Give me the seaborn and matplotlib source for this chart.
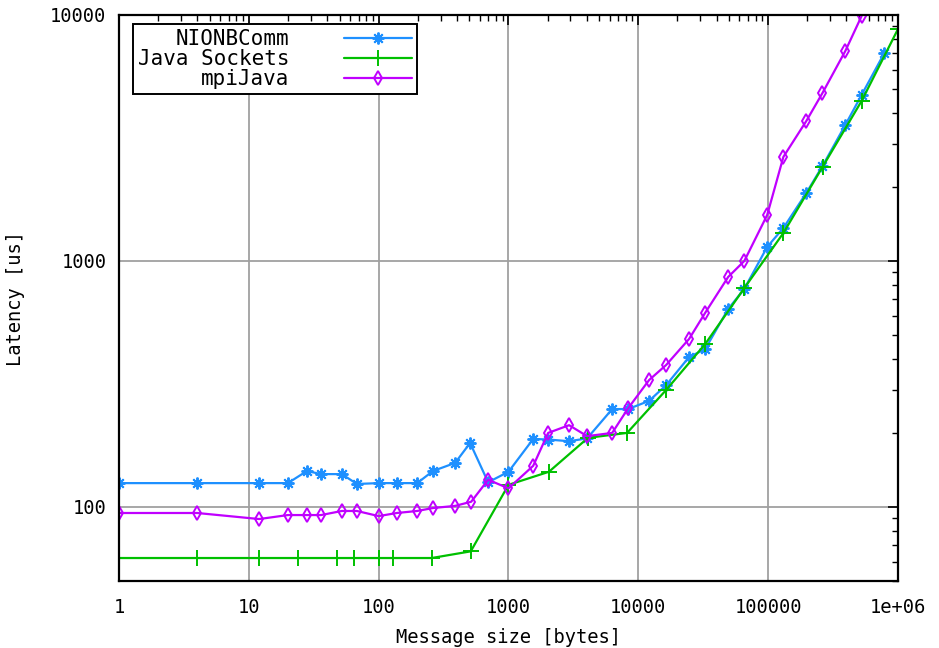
import numpy as np
import pandas as pd
import matplotlib
matplotlib.use("Agg")
import matplotlib.pyplot as plt
import seaborn as sns
from matplotlib.ticker import FixedLocator, FixedFormatter, LogLocator, NullFormatter

# ---- data ----
nio_x = [1, 4, 12, 20, 28, 36, 52, 68, 100, 138, 198, 262, 388, 506, 697, 1000,
         1550, 2020, 2930, 4030, 6290, 8350, 12100, 16400, 24600, 32700, 49200,
         65500, 98300, 131000, 196600, 262100, 393200, 524300, 786400]
nio_y = [125, 125, 125, 125, 140, 136, 136, 124, 125, 125, 125, 140, 151, 182, 126, 139,
         189, 188, 185, 190, 250, 250, 270, 313, 407, 438, 638,
         770, 1141, 1362, 1889, 2432, 3575, 4730, 7015]

sock_x = [1, 4, 12, 24, 48, 64, 100, 128, 256, 512, 1000, 2048, 4096, 8192, 16384,
          32768, 65536, 131072, 262144, 524288, 1000000]
sock_y = [62, 62, 62, 62, 62, 62, 62, 62, 62, 66, 123, 139, 191, 200, 299,
          460, 776, 1300, 2410, 4470, 8770]

mpi_x = [1, 4, 12, 20, 28, 36, 52, 68, 100, 138, 198, 262, 388, 516, 697, 1000,
         1550, 2020, 2930, 4030, 6290, 8350, 12100, 16400, 24600, 32700, 49200,
         65500, 98300, 131000, 196600, 262100, 393200, 524300]
mpi_y = [94.5, 94.5, 89.3, 92.7, 92.7, 92.7, 96.3, 96.3, 91.8, 94.5, 96.3, 99, 101, 105, 129, 119,
         147, 200, 215, 194, 200, 252, 328, 378, 482, 615, 861,
         1000, 1538, 2650, 3705, 4820, 7145, 9900]

series_names = ["NIONBComm", "Java Sockets", "mpiJava"]
colors = ["#1E90FF", "#00C000", "#C000FF"]

x_ticks = [1, 10, 100, 1000, 10000, 100000, 1000000]
x_ticklabels = ["1", "10", "100", "1000", "10000", "100000", "1e+06"]
y_ticks = [100, 1000, 10000]
y_ticklabels = ["100", "1000", "10000"]

sns.set_style("white")
plt.rcParams["font.family"] = ["DejaVu Sans Mono", "DejaVu Sans"]
plt.rcParams["font.size"] = 13.5
for k in ["text.color", "axes.labelcolor", "xtick.color", "ytick.color"]:
    plt.rcParams[k] = "black"

fig = plt.figure(figsize=(9.39, 6.48), dpi=100)
ax = fig.add_axes([119 / 939, 1 - 581 / 648, (898 - 119) / 939, (581 - 15) / 648])

frames = []
for name, xs, ys in [(series_names[0], nio_x, nio_y),
                     (series_names[1], sock_x, sock_y),
                     (series_names[2], mpi_x, mpi_y)]:
    frames.append(pd.DataFrame({"size": xs, "latency": ys, "series": name}))
df = pd.concat(frames, ignore_index=True)

markers = [(8, 2, 0), "+", "d"]
msizes = [8.5, 11, 7]
for name, col, mk, ms in zip(series_names, colors, markers, msizes):
    sub = df[df["series"] == name]
    sns.lineplot(data=sub, x="size", y="latency", ax=ax, color=col, label=name,
                 estimator=None, sort=False, linewidth=1.6,
                 marker=mk, markersize=ms, markeredgecolor=col,
                 markerfacecolor="none", markeredgewidth=1.4, clip_on=True)

ax.set_xscale("log")
ax.set_yscale("log")
ax.set_xlim(1, 1e6)
ax.set_ylim(50, 10000)

ax.xaxis.set_major_locator(FixedLocator(x_ticks))
ax.xaxis.set_major_formatter(FixedFormatter(x_ticklabels))
ax.yaxis.set_major_locator(FixedLocator(y_ticks))
ax.yaxis.set_major_formatter(FixedFormatter(y_ticklabels))
ax.xaxis.set_minor_locator(LogLocator(base=10, subs=np.arange(2, 10), numticks=20))
ax.yaxis.set_minor_locator(LogLocator(base=10, subs=np.arange(2, 10), numticks=20))
ax.xaxis.set_minor_formatter(NullFormatter())
ax.yaxis.set_minor_formatter(NullFormatter())

ax.tick_params(which="both", direction="in", top=True, right=True, colors="black")
ax.tick_params(which="major", length=7, width=1.2)
ax.tick_params(which="minor", length=4, width=1.0)
ax.tick_params(axis="x", which="major", pad=12)
ax.tick_params(axis="y", which="major", pad=9)

ax.grid(True, which="major", color="#a0a0a0", linewidth=1.3)
ax.set_axisbelow(True)
for sp in ax.spines.values():
    sp.set_visible(True)
    sp.set_color("black")
    sp.set_linewidth(1.6)

ax.set_xlabel("Message size [bytes]", labelpad=8)
ax.set_ylabel("Latency [us]")
ax.yaxis.set_label_coords(-0.121, 0.5)

leg = ax.legend(loc="upper left", bbox_to_anchor=(0.018, 0.984), borderaxespad=0,
                markerfirst=False, fancybox=False, edgecolor="black", framealpha=1,
                handlelength=3.27, handletextpad=2.6, labelspacing=0.0,
                borderpad=0.25, fontsize=15)
leg.get_frame().set_linewidth(1.4)

fig.savefig("out.png", dpi=100, facecolor="white")
